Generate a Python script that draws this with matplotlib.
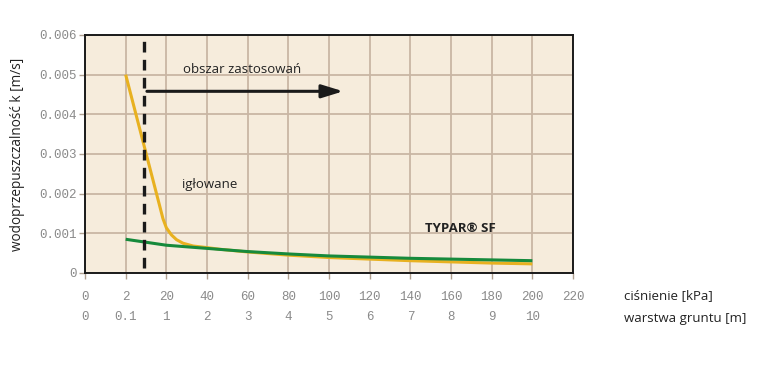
import numpy as np
import matplotlib
matplotlib.use("Agg")
import matplotlib.pyplot as plt

# osie
kpa_ticks = [0, 2, 20, 40, 60, 80, 100, 120, 140, 160, 180, 200, 220]
m_labels = ["0", "0.1", "1", "2", "3", "4", "5", "6", "7", "8", "9", "10", ""]
y_ticks = [0, 0.001, 0.002, 0.003, 0.004, 0.005, 0.006]
y_labels = ["0", "0.001", "0.002", "0.003", "0.004", "0.005", "0.006"]

# igłowane
ig_x = [2, 15.6, 17.1, 18.5, 20, 22.5, 25, 28.2, 33.2, 40, 46, 60, 80, 100, 120, 140, 160, 180, 200]
ig_k = [0.0050, 0.00201, 0.00168, 0.00137, 0.00114, 0.00096, 0.00084, 0.00075, 0.00068,
        0.00064, 0.00060, 0.00053, 0.00045, 0.00039, 0.00035, 0.00031, 0.00028, 0.00025, 0.00023]

# TYPAR SF
sf_x = [2, 20, 40, 60, 80, 100, 120, 140, 160, 180, 200]
sf_k = [0.00085, 0.00070, 0.00062, 0.00054, 0.00048, 0.00043, 0.00040,
        0.00037, 0.00035, 0.00033, 0.00031]

limit_kpa = 10
arrow_from, arrow_to, arrow_k = 11.4, 107, 0.00458

idx = np.arange(len(kpa_ticks))
def fwd(x):
    return np.interp(x, kpa_ticks, idx)
def inv(x):
    return np.interp(x, idx, kpa_ticks)

fig = plt.figure(figsize=(7.61, 3.87), dpi=100)
ax = fig.add_axes([0.1117, 0.2946, 0.6413, 0.615])
ax.set_xscale("function", functions=(fwd, inv))
ax.set_facecolor("#f6ecdc")

ax.plot(ig_x, ig_k, color="#e8b120", lw=2.2, solid_capstyle="butt", solid_joinstyle="round", zorder=3)
ax.plot(sf_x, sf_k, color="#168a3c", lw=2.2, solid_capstyle="butt", solid_joinstyle="round", zorder=4)

ax.plot([limit_kpa, limit_kpa], [0.00012, 0.006], color="#1a1a1a", lw=2.4,
        dashes=(3.2, 2.2), zorder=5)
ax.annotate("", xy=(arrow_to, arrow_k), xytext=(arrow_from, arrow_k),
            arrowprops=dict(arrowstyle="-|>,head_length=1.3,head_width=0.4",
                            color="#1a1a1a", lw=2.2, shrinkA=0, shrinkB=0), zorder=5)

tf = "Open Sans"
ax.text(28, 0.00514, "obszar zastosowań", fontsize=9.5, family=tf, color="#222", va="center")
ax.text(27.5, 0.00224, "igłowane", fontsize=9.5, family=tf, color="#222", va="center")
ax.text(147, 0.00113, "TYPAR® SF", fontsize=9.5, family=tf, weight="bold", color="#222", va="center")

ax.set_xlim(0, 220)
ax.set_ylim(0, 0.006)
ax.set_xticks(kpa_ticks)
ax.set_xticklabels([f"{a}\n{b}" for a, b in zip(kpa_ticks, m_labels)],
                   family="Liberation Mono", fontsize=9, color="#8a8a8a", linespacing=1.85)
ax.set_yticks(y_ticks)
ax.set_yticklabels(y_labels, family="Liberation Mono", fontsize=9, color="#8a8a8a")
ax.tick_params(axis="x", length=4, width=1, color="#b0a090", pad=9)
ax.tick_params(axis="y", length=4, width=1, color="#b0a090", pad=2)
ax.grid(True, color="#c9b6a4", lw=1.3)
ax.set_axisbelow(True)
for s in ax.spines.values():
    s.set_color("#1a1a1a")
    s.set_linewidth(1.4)

ax.set_ylabel("wodoprzepuszczalność k [m/s]", fontsize=9.8, family=tf, color="#222")
ax.yaxis.set_label_coords(-0.122, 0.5)
fig.text(0.82, 0.235, "ciśnienie [kPa]", fontsize=9.5, family=tf, color="#222", va="center")
fig.text(0.82, 0.178, "warstwa gruntu [m]", fontsize=9.5, family=tf, color="#222", va="center")

fig.savefig("out.png", dpi=100)
